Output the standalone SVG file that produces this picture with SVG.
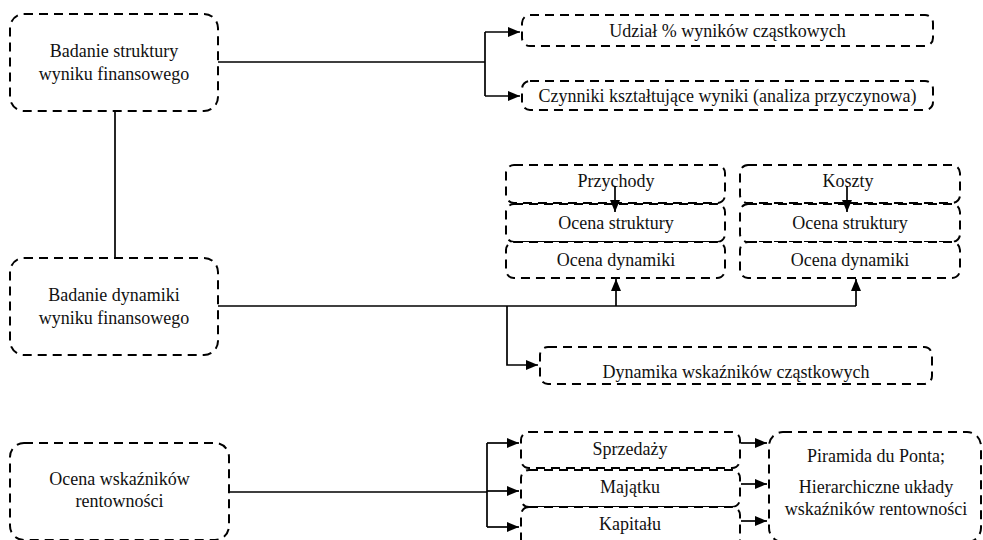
<svg xmlns="http://www.w3.org/2000/svg" width="983" height="540" viewBox="0 0 983 540">
<defs>
<marker id="ah" markerUnits="userSpaceOnUse" markerWidth="12" markerHeight="10" refX="12" refY="5" orient="auto">
<path d="M0,0 L12,5 L0,10 z" fill="#000"/>
</marker>
<style>
.box{fill:#fff;stroke:#000;stroke-width:2;stroke-dasharray:9 6}
.t{font-family:"Liberation Serif","Times New Roman",serif;font-size:18px;fill:#111;text-anchor:middle}
.c{fill:none;stroke:#000;stroke-width:1.7}
.a{marker-end:url(#ah)}
</style>
</defs>
<rect width="983" height="540" fill="#fff"/>
<g id="n-struktura">
<rect class="box" x="10" y="14" width="208" height="97" rx="14"/>
<text class="t" x="114" y="57">Badanie struktury</text>
<text class="t" x="114" y="80">wyniku finansowego</text>
</g>
<g id="n-udzial">
<rect class="box" x="522" y="15" width="411" height="31" rx="8"/>
<text class="t" x="727.5" y="37">Udział % wyników cząstkowych</text>
</g>
<g id="n-czynniki">
<rect class="box" x="522" y="81" width="411" height="29" rx="8"/>
<text class="t" x="727.5" y="102">Czynniki kształtujące wyniki (analiza przyczynowa)</text>
</g>
<g id="n-dynamika">
<rect class="box" x="10" y="258" width="208" height="97" rx="14"/>
<text class="t" x="114" y="301">Badanie dynamiki</text>
<text class="t" x="114" y="324">wyniku finansowego</text>
</g>
<g id="n-przychody">
<rect class="box" x="506" y="165" width="219" height="38" rx="8"/>
<text class="t" x="616" y="187">Przychody</text>
</g>
<g id="n-przych-struktura">
<rect class="box" x="506" y="204" width="219" height="38" rx="8"/>
<text class="t" x="616" y="229">Ocena struktury</text>
</g>
<g id="n-przych-dynamika">
<rect class="box" x="506" y="242" width="219" height="36" rx="8"/>
<text class="t" x="616" y="266">Ocena dynamiki</text>
</g>
<g id="n-koszty">
<rect class="box" x="740" y="165" width="220" height="38" rx="8"/>
<text class="t" x="848" y="187">Koszty</text>
</g>
<g id="n-koszty-struktura">
<rect class="box" x="740" y="204" width="220" height="38" rx="8"/>
<text class="t" x="850" y="229">Ocena struktury</text>
</g>
<g id="n-koszty-dynamika">
<rect class="box" x="740" y="242" width="220" height="36" rx="8"/>
<text class="t" x="850" y="266">Ocena dynamiki</text>
</g>
<g id="n-dyn-wskaznikow">
<rect class="box" x="540" y="347" width="392" height="37" rx="8"/>
<text class="t" x="736" y="378">Dynamika wskaźników cząstkowych</text>
</g>
<g id="n-rentownosc">
<rect class="box" x="10" y="443" width="219" height="97" rx="14"/>
<text class="t" x="119.5" y="485">Ocena wskaźników</text>
<text class="t" x="119.5" y="507">rentowności</text>
</g>
<g id="n-sprzedazy">
<rect class="box" x="521" y="432" width="219" height="36" rx="8"/>
<text class="t" x="630" y="455">Sprzedaży</text>
</g>
<g id="n-majatku">
<rect class="box" x="521" y="470" width="219" height="37" rx="8"/>
<text class="t" x="630" y="493">Majątku</text>
</g>
<g id="n-kapitalu">
<rect class="box" x="521" y="507" width="219" height="40" rx="8"/>
<text class="t" x="630" y="530">Kapitału</text>
</g>
<g id="n-piramida">
<rect class="box" x="769" y="432" width="212" height="110" rx="14"/>
<text class="t" x="876" y="462">Piramida du Ponta;</text>
<text class="t" x="876" y="493">Hierarchiczne układy</text>
<text class="t" x="876" y="515">wskaźników rentowności</text>
</g>
<g id="connectors">
<path class="c" d="M218,62 H485 M485,32 V96"/>
<path class="c a" d="M485,32 H520"/>
<path class="c a" d="M485,96 H520"/>
<path class="c" d="M115,111 V258"/>
<path class="c" d="M218,306 H856"/>
<path class="c a" d="M616,306 V279"/>
<path class="c a" d="M856,306 V279"/>
<path class="c a" d="M507,306 V365 H538"/>
<path class="c a" d="M615,186 V212"/>
<path class="c a" d="M847,186 V212"/>
<path class="c" d="M229,492 H487 M487,443 V527"/>
<path class="c a" d="M487,443 H519"/>
<path class="c a" d="M487,491 H519"/>
<path class="c a" d="M487,527 H519"/>
<path class="c a" d="M741,443 H767"/>
<path class="c a" d="M741,484 H767"/>
<path class="c a" d="M741,521 H767"/>
</g>
</svg>
